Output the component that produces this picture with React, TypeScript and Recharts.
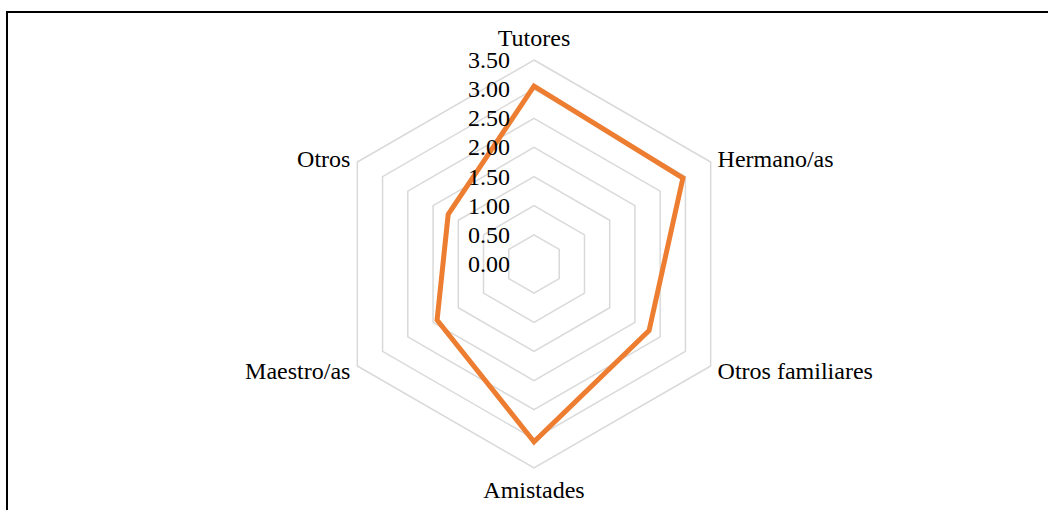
import React from "react"
import { RadarChart, Radar, PolarGrid, PolarAngleAxis, PolarRadiusAxis } from "recharts"

const categories = ["Tutores", "Hermano/as", "Otros familiares", "Amistades", "Maestro/as", "Otros"]
const values = [3.05, 2.95, 2.28, 3.05, 1.92, 1.7]
const radiusTicks = [0, 0.5, 1, 1.5, 2, 2.5, 3, 3.5]

const data = categories.map((name, i) => ({ name, value: values[i] }))

const FONT = "Liberation Serif, Times New Roman, serif"
const CX = 534
const CY = 264
// radius of the 3.50 ring; recharts rounds the radius domain up to 4
const R_TOP = 204
const OUTER = (R_TOP * 4) / 3.5

const AngleTick = (props: any) => {
  const { x, y, payload, textAnchor } = props
  const dx = x - CX
  const dy = y - CY
  const d = Math.sqrt(dx * dx + dy * dy) || 1
  const k = (R_TOP + 8) / d
  const tx = CX + dx * k
  let ty = CY + dy * k
  if (dy < -150) ty -= 14
  else if (dy > 150) ty += 14
  else ty += 1
  return (
    <text
      x={tx}
      y={ty}
      textAnchor={textAnchor}
      dominantBaseline="central"
      style={{ fontFamily: FONT, fontSize: 24 }}
      fill="#000"
    >
      {payload.value}
    </text>
  )
}

const RadiusTick = (props: any) => {
  const { x, y, payload } = props
  return (
    <text
      x={x - 24}
      y={y}
      textAnchor="end"
      dominantBaseline="central"
      style={{ fontFamily: FONT, fontSize: 24 }}
      fill="#000"
    >
      {Number(payload.value).toFixed(2)}
    </text>
  )
}

export default function App() {
  return (
    <div style={{ position: "relative", width: 1048, height: 510, overflow: "hidden", background: "#fff" }}>
      <style>{`body{margin:0;overflow:hidden}`}</style>
      <div
        style={{
          position: "absolute",
          left: 6,
          top: 11,
          width: 1100,
          height: 600,
          border: "2px solid #000",
          boxSizing: "border-box",
        }}
      />
      <div style={{ position: "absolute", left: 0, top: 0 }}>
        <RadarChart
          width={1048}
          height={510}
          data={data}
          cx={CX}
          cy={CY}
          outerRadius={OUTER}
          startAngle={90}
          endAngle={-270}
        >
          <PolarGrid gridType="polygon" radialLines={false} stroke="#d9d9d9" strokeWidth={1.5} />
          <PolarAngleAxis dataKey="name" tick={<AngleTick />} axisLine={false} tickLine={false} />
          <PolarRadiusAxis
            angle={90}
            type="number"
            domain={[0, 3.5]}
            ticks={radiusTicks}
            axisLine={false}
            tick={<RadiusTick />}
          />
          <Radar
            dataKey="value"
            stroke="#ed7d31"
            strokeWidth={5}
            fill="none"
            fillOpacity={0}
            dot={false}
            isAnimationActive={false}
          />
        </RadarChart>
      </div>
    </div>
  )
}
